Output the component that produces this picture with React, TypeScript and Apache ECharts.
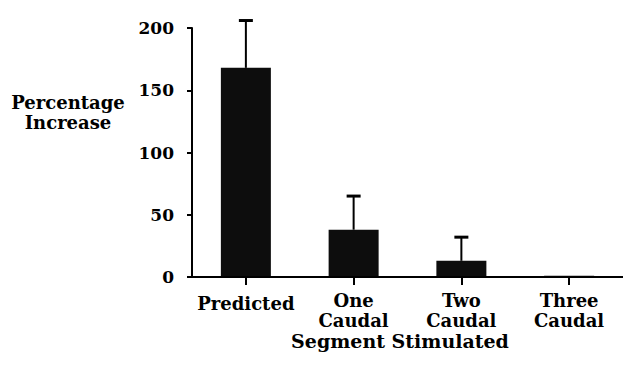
import React, { useEffect, useRef } from "react";
import * as echarts from "echarts";

const categories = ["Predicted", "One\nCaudal", "Two\nCaudal", "Three\nCaudal"];
const values = [168, 38, 13, 1];
const errorUpper: (number | null)[] = [206, 65, 32, null];
const yTicks = { min: 0, max: 200, interval: 50 };

const FONT = "'DejaVu Serif', serif";

export default function App() {
  const ref = useRef<HTMLDivElement>(null);
  useEffect(() => {
    if (!ref.current) return;
    const chart = echarts.init(ref.current, undefined, { renderer: "svg" });
    const errData = errorUpper
      .map((u, i) => (u == null ? null : [i, values[i], u]))
      .filter((d) => d !== null);
    chart.setOption({
      animation: false,
      backgroundColor: "#fff",
      grid: { left: 192, right: -9, top: 28, bottom: 92, containLabel: false },
      xAxis: {
        type: "category",
        data: categories,
        z: 5,
        axisLine: { show: true, lineStyle: { color: "#000", width: 2 } },
        axisTick: {
          show: true,
          alignWithLabel: true,
          interval: 0,
          inside: false,
          length: 8,
          lineStyle: { color: "#000", width: 2, opacity: 1 },
        },
        axisLabel: {
          interval: 0,
          color: "#000",
          fontFamily: FONT,
          fontWeight: "bold",
          fontSize: 18,
          lineHeight: 20,
          margin: 13,
          formatter: (v: string) => (v.indexOf("\n") < 0 ? "{p|" + v + "}" : v),
          rich: {
            p: { fontFamily: FONT, fontWeight: "bold", fontSize: 18, color: "#000", padding: [6, 0, 0, 0] },
          },
        },
      },
      yAxis: {
        type: "value",
        min: yTicks.min,
        max: yTicks.max,
        interval: yTicks.interval,
        splitLine: { show: false },
        axisLine: { show: true, lineStyle: { color: "#000", width: 2 } },
        axisTick: { show: true, length: 5, lineStyle: { color: "#000", width: 2 } },
        axisLabel: {
          color: "#000",
          fontFamily: FONT,
          fontWeight: "bold",
          fontSize: 17,
          margin: 18,
        },
      },
      graphic: [
        {
          type: "text",
          x: 68,
          y: 112,
          style: {
            text: "Percentage\nIncrease",
            textAlign: "center",
            textVerticalAlign: "middle",
            fontFamily: FONT,
            fontWeight: "bold",
            fontSize: 18,
            lineHeight: 20,
            fill: "#000",
          },
        },
        {
          type: "text",
          x: 400,
          y: 341,
          style: {
            text: "Segment Stimulated",
            textAlign: "center",
            textVerticalAlign: "middle",
            fontFamily: FONT,
            fontWeight: "bold",
            fontSize: 19,
            fill: "#000",
          },
        },
      ],
      series: [
        {
          type: "bar",
          data: values,
          barWidth: 50,
          itemStyle: { color: "#0d0d0d" },
          z: 2,
        },
        {
          type: "custom",
          data: errData,
          encode: { x: 0, y: [1, 2] },
          z: 3,
          renderItem: (params: any, api: any) => {
            const x = api.value(0);
            const base = api.coord([x, api.value(1)]);
            const top = api.coord([x, api.value(2)]);
            const half = 7;
            return {
              type: "group",
              children: [
                {
                  type: "line",
                  shape: { x1: base[0], y1: base[1], x2: top[0], y2: top[1] },
                  style: { stroke: "#000", lineWidth: 2 },
                },
                {
                  type: "line",
                  shape: { x1: top[0] - half, y1: top[1], x2: top[0] + half, y2: top[1] },
                  style: { stroke: "#000", lineWidth: 3 },
                },
              ],
            };
          },
        },
      ],
    });
    return () => chart.dispose();
  }, []);
  return (
    <div
      ref={ref}
      style={{ position: "absolute", left: 0, top: 0, width: 623, height: 369, background: "#fff" }}
    />
  );
}
